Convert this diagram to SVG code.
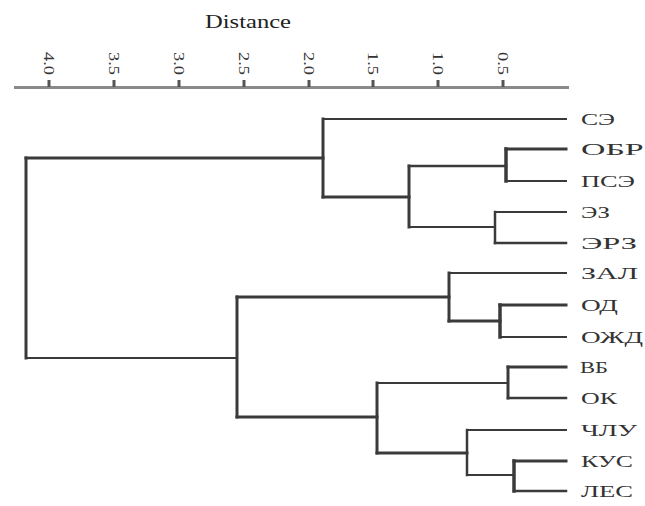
<svg xmlns="http://www.w3.org/2000/svg" width="645" height="506" viewBox="0 0 645 506">
<style>
.ln{fill:none;stroke:#3a3a3a;stroke-width:2;stroke-linecap:square}
.ax{fill:none;stroke:#8a8a8a;stroke-width:3}
.lab{font-family:"Liberation Serif",serif;font-size:17px;fill:#333}
.tl{font-family:"Liberation Serif",serif;font-size:15px;fill:#333}
.ttl{font-family:"Liberation Serif",serif;font-size:19px;fill:#222}
</style>
<rect width="645" height="506" fill="#fff"/>
<g id="axis">
<text class="ttl" x="205" y="28" textLength="86" lengthAdjust="spacingAndGlyphs">Distance</text>
<path class="ax" d="M14 87.5 H569"/>
<path class="ax" d="M49 80 V87 M114 80 V87 M179 80 V87 M244 80 V87 M309 80 V87 M373 80 V87 M438 80 V87 M503 80 V87" style="stroke:#555;stroke-width:3"/>
<g class="tl">
<text transform="translate(44,52) rotate(90)" textLength="23" lengthAdjust="spacingAndGlyphs">4.0</text>
<text transform="translate(109,52) rotate(90)" textLength="23" lengthAdjust="spacingAndGlyphs">3.5</text>
<text transform="translate(174,52) rotate(90)" textLength="23" lengthAdjust="spacingAndGlyphs">3.0</text>
<text transform="translate(239,52) rotate(90)" textLength="23" lengthAdjust="spacingAndGlyphs">2.5</text>
<text transform="translate(304,52) rotate(90)" textLength="23" lengthAdjust="spacingAndGlyphs">2.0</text>
<text transform="translate(368,52) rotate(90)" textLength="23" lengthAdjust="spacingAndGlyphs">1.5</text>
<text transform="translate(433,52) rotate(90)" textLength="23" lengthAdjust="spacingAndGlyphs">1.0</text>
<text transform="translate(498,52) rotate(90)" textLength="23" lengthAdjust="spacingAndGlyphs">0.5</text>
</g>
</g>
<g id="connectors">
<path class="ln" d="M26 158 H323" style="stroke-width:3"/>
<path class="ln" d="M26 158 V358" style="stroke-width:3"/>
<path class="ln" d="M26 358 H237"/>
<path class="ln" d="M323 119 V197" style="stroke-width:3"/>
<path class="ln" d="M323 119 H566"/>
<path class="ln" d="M323 197 H409" style="stroke-width:3"/>
<path class="ln" d="M409 166 V227" style="stroke-width:3"/>
<path class="ln" d="M409 166 H506" style="stroke-width:2.5"/>
<path class="ln" d="M506 149 V181" style="stroke-width:3.5"/>
<path class="ln" d="M506 149 H566" style="stroke-width:3"/>
<path class="ln" d="M506 181 H566"/>
<path class="ln" d="M409 227 H495"/>
<path class="ln" d="M495 212 V243" style="stroke-width:2.5"/>
<path class="ln" d="M495 212 H566"/>
<path class="ln" d="M495 243 H566" style="stroke-width:2.5"/>
<path class="ln" d="M237 297 V417" style="stroke-width:3"/>
<path class="ln" d="M237 297 H449" style="stroke-width:3"/>
<path class="ln" d="M449 273 V321" style="stroke-width:3"/>
<path class="ln" d="M449 273 H566"/>
<path class="ln" d="M449 321 H500" style="stroke-width:3"/>
<path class="ln" d="M500 305 V337" style="stroke-width:3.5"/>
<path class="ln" d="M500 305 H566" style="stroke-width:3"/>
<path class="ln" d="M500 337 H566"/>
<path class="ln" d="M237 417 H377" style="stroke-width:3"/>
<path class="ln" d="M377 383 V453" style="stroke-width:3"/>
<path class="ln" d="M377 383 H508"/>
<path class="ln" d="M508 367 V398" style="stroke-width:3"/>
<path class="ln" d="M508 367 H566" style="stroke-width:3"/>
<path class="ln" d="M508 398 H566" style="stroke-width:2.5"/>
<path class="ln" d="M377 453 H467" style="stroke-width:3"/>
<path class="ln" d="M467 430 V475" style="stroke-width:2.5"/>
<path class="ln" d="M467 430 H566"/>
<path class="ln" d="M467 475 H514"/>
<path class="ln" d="M514 461 V491" style="stroke-width:3.5"/>
<path class="ln" d="M514 461 H566" style="stroke-width:3"/>
<path class="ln" d="M514 491 H566" style="stroke-width:2.5"/>
</g>
<g id="leaf-SE"><text class="lab" x="581" y="125" textLength="34" lengthAdjust="spacingAndGlyphs">СЭ</text></g>
<g id="leaf-OBRZ"><text class="lab" x="581" y="155" textLength="80" lengthAdjust="spacingAndGlyphs">ОБРЗ</text></g>
<g id="leaf-PSE"><text class="lab" x="581" y="187" textLength="54" lengthAdjust="spacingAndGlyphs">ПСЭ</text></g>
<g id="leaf-EZ"><text class="lab" x="581" y="218" textLength="29" lengthAdjust="spacingAndGlyphs">ЭЗ</text></g>
<g id="leaf-ERZ"><text class="lab" x="581" y="249" textLength="56" lengthAdjust="spacingAndGlyphs">ЭРЗ</text></g>
<g id="leaf-ZAL"><text class="lab" x="581" y="279" textLength="57" lengthAdjust="spacingAndGlyphs">ЗАЛ</text></g>
<g id="leaf-OD"><text class="lab" x="581" y="311" textLength="37" lengthAdjust="spacingAndGlyphs">ОД</text></g>
<g id="leaf-OZhD"><text class="lab" x="581" y="343" textLength="62" lengthAdjust="spacingAndGlyphs">ОЖД</text></g>
<g id="leaf-VB"><text class="lab" x="580" y="373" textLength="28" lengthAdjust="spacingAndGlyphs">ВБ</text></g>
<g id="leaf-OK"><text class="lab" x="581" y="404" textLength="36" lengthAdjust="spacingAndGlyphs">ОК</text></g>
<g id="leaf-ChLU"><text class="lab" x="581" y="436" textLength="56" lengthAdjust="spacingAndGlyphs">ЧЛУ</text></g>
<g id="leaf-KUS"><text class="lab" x="581" y="467" textLength="52" lengthAdjust="spacingAndGlyphs">КУС</text></g>
<g id="leaf-LES"><text class="lab" x="581" y="497" textLength="52" lengthAdjust="spacingAndGlyphs">ЛЕС</text></g>
</svg>
